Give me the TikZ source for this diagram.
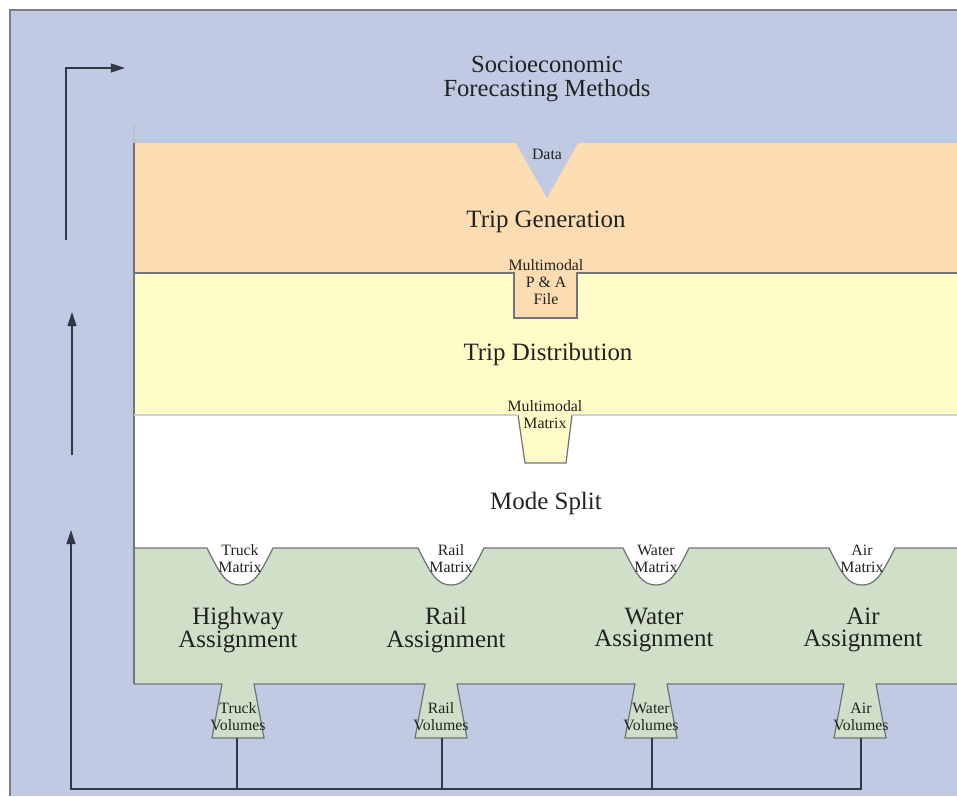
\documentclass[tikz,border=0pt]{standalone}
\usepackage{fontspec}
\setmainfont{Liberation Serif}
\usetikzlibrary{arrows.meta}
\definecolor{bgblue}{RGB}{192,203,227}
\definecolor{bandA}{RGB}{252,220,177}
\definecolor{bandB}{RGB}{255,251,198}
\definecolor{bandD}{RGB}{208,223,199}
\definecolor{edgec}{RGB}{112,116,122}
\definecolor{inkc}{RGB}{34,34,34}
\definecolor{arrowc}{RGB}{48,56,70}
\definecolor{framec}{RGB}{120,126,140}
\begin{document}
\begin{tikzpicture}[x=0.02cm,y=-0.02cm,
  titletxt/.style={font=\fontsize{14}{13.2}\selectfont, text=inkc, align=center, inner sep=0pt},
  bigtxt/.style={font=\fontsize{14.2}{12.8}\selectfont, text=inkc, align=center, inner sep=0pt},
  smalltxt/.style={font=\fontsize{9}{9.6}\selectfont, text=inkc, align=center, inner sep=0pt},
  bandline/.style={draw=edgec, line width=0.7pt},
  flow/.style={draw=arrowc, line width=1.1pt},
  flowarrow/.style={flow, -{Triangle[length=8pt,width=5pt]}},
]
\useasboundingbox (0,0) rectangle (957,796);
\fill[white] (0,0) rectangle (957,796);
\fill[bgblue] (10,10) rectangle (957,796);
\draw[framec, line width=0.8pt] (10,796) -- (10,10) -- (957,10);

% bands
\fill[bandA] (134,143) rectangle (957,273);
\fill[bandB] (134,273) rectangle (957,415);
\fill[white] (134,415) rectangle (957,548);
\fill[bandD] (134,548) rectangle (957,684);

% Data notch
\fill[bgblue] (516,143) -- (547,198) -- (578,143) -- cycle;
% P&A tab
\fill[bandA] (514,272) rectangle (577,318);
% multimodal matrix tab
\fill[bandB] (518,414) -- (525,463) -- (566,463) -- (572,414) -- cycle;
% matrix notches
\foreach \c in {240,451,656,862}
  \fill[white] (\c-33,547) .. controls (\c-20,574) and (\c-14,585) .. (\c,585)
     .. controls (\c+14,585) and (\c+20,574) .. (\c+33,547) -- cycle;
% volume tabs
\foreach \c in {238,441,651,860}
  \fill[bandD] (\c-16,683) -- (\c-26,738) -- (\c+26,738) -- (\c+16,683) -- cycle;

% band edges
\draw[edgec!45, line width=0.6pt] (134,125) -- (134,143);
\draw[bandline] (134,143) -- (134,684);
\draw[bandline] (134,273) -- (514,273) -- (514,318) -- (577,318) -- (577,273) -- (957,273);
\draw[bandline] (518,415) -- (525,463) -- (566,463) -- (572,415);
\draw[edgec!35, line width=0.6pt] (134,415) -- (518,415) (572,415) -- (957,415);
\draw[bandline] (134,548)
  \foreach \c in {240,451,656,862} {
    -- (\c-33,548) .. controls (\c-20,574) and (\c-14,585) .. (\c,585)
    .. controls (\c+14,585) and (\c+20,574) .. (\c+33,548) }
  -- (957,548);
\draw[bandline] (134,684)
  \foreach \c in {238,441,651,860} {
    -- (\c-16,684) -- (\c-26,738) -- (\c+26,738) -- (\c+16,684) }
  -- (957,684);

% texts
\node[titletxt] (socio) at (547,79) {Socioeconomic\\Forecasting Methods};
\node[smalltxt] (data) at (547,154) {Data};
\node[bigtxt] (gen) at (546,222) {Trip Generation};
\node[smalltxt] (pa) at (546,282) {Multimodal\\P \& A\\File};
\node[bigtxt] (dist) at (548,354) {Trip Distribution};
\node[smalltxt] (mm) at (545,415) {Multimodal\\Matrix};
\node[bigtxt] (mode) at (546,503) {Mode Split};

\node[smalltxt] (tm) at (240,559) {Truck\\Matrix};
\node[smalltxt] (rm) at (451,559) {Rail\\Matrix};
\node[smalltxt] (wm) at (656,559) {Water\\Matrix};
\node[smalltxt] (am) at (862,559) {Air\\Matrix};

\node[bigtxt] (ha) at (238,630) {Highway\\Assignment};
\node[bigtxt] (ra) at (446,630) {Rail\\Assignment};
\node[bigtxt] (wa) at (654,630) {Water\\Assignment};
\node[bigtxt] (aa) at (863,630) {Air\\Assignment};

\node[smalltxt] (tv) at (238,717) {Truck\\Volumes};
\node[smalltxt] (rv) at (441,717) {Rail\\Volumes};
\node[smalltxt] (wv) at (651,717) {Water\\Volumes};
\node[smalltxt] (av) at (861,717) {Air\\Volumes};

% connectors
\coordinate (tvb) at (237,738);
\coordinate (rvb) at (442,738);
\coordinate (wvb) at (652,738);
\coordinate (avb) at (861,738);
\coordinate (corner) at (71,789);
\coordinate (lowtip) at (71,530);
\coordinate (midfoot) at (72,455);
\coordinate (midtip) at (72,312);
\coordinate (topfoot) at (66,240);
\coordinate (topbend) at (66,68);
\coordinate (toptip) at (125,68);

\draw[flowarrow] (avb) |- (corner) -- (lowtip);
\draw[flow] (tvb) -- (tvb |- corner);
\draw[flow] (rvb) -- (rvb |- corner);
\draw[flow] (wvb) -- (wvb |- corner);
\draw[flowarrow] (midfoot) -- (midtip);
\draw[flowarrow] (topfoot) -- (topbend) -- (toptip);
\end{tikzpicture}
\end{document}
